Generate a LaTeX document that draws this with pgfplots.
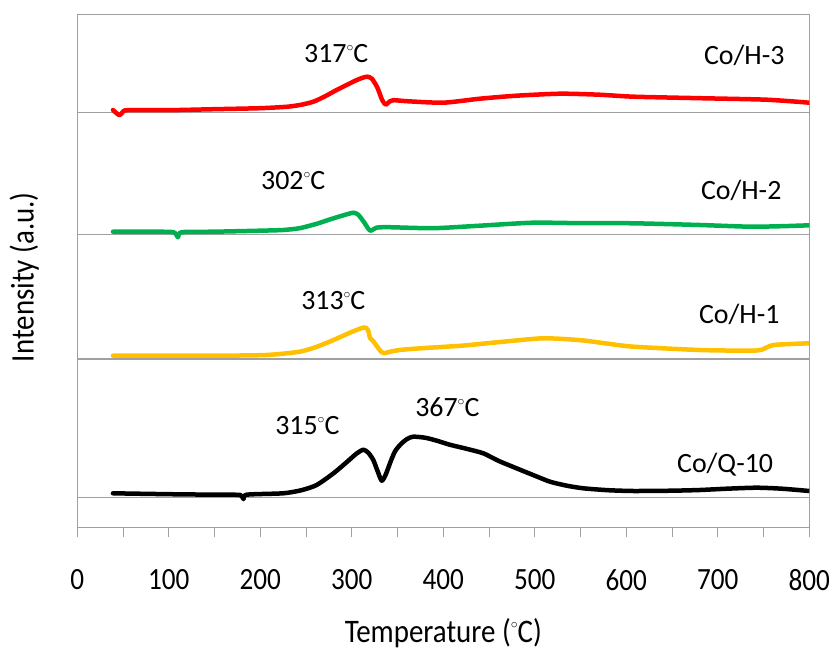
\documentclass[border=0pt]{standalone}
\usepackage{pgfplots}
\pgfplotsset{compat=1.18}
\usepackage{fontspec}
\setmainfont{Carlito}
\newfontfamily\thinfont[FakeStretch=0.88]{Carlito}
\definecolor{cred}{HTML}{FF0000}
\definecolor{cgreen}{HTML}{00B050}
\definecolor{cyellow}{HTML}{FFC000}
\definecolor{axgray}{HTML}{A0A0A0}
\newcommand{\degr}{\raisebox{0.42em}{\scalebox{0.55}{$\circ$}}}
\begin{document}
\begin{tikzpicture}
\begin{axis}[
  at={(0,0)}, anchor=south west,
  width=732bp, height=513.4bp, scale only axis,
  xmin=0, xmax=800, ymin=0, ymax=513.4,
  axis line style={axgray, line width=1.3pt},
  xtick={0,100,...,800}, minor xtick={50,150,...,750},
  ytick=\empty, xtick pos=bottom,
  tick align=outside, major tick length=9bp, minor tick length=9bp,
  every tick/.style={axgray, line width=1pt},
  /pgf/number format/assume math mode=true,
  xticklabel style={font=\thinfont\fontsize{31}{31}\selectfont, yshift=-29bp},
  xlabel={Temperature (\degr C)},
  ylabel={Intensity (a.u.)},
  xlabel style={font=\thinfont\fontsize{33}{33}\selectfont, at={(axis description cs:0.5,-0.2045)}, anchor=center},
  ylabel style={font=\thinfont\fontsize{33}{33}\selectfont, at={(axis description cs:-0.0724,0.488)}, anchor=center},
  every axis plot/.append style={line join=round, line cap=round},
]
% baselines
\addplot[axgray, line width=1.5pt] coordinates {(0,415.4) (800,415.4)};
\addplot[axgray, line width=1.5pt] coordinates {(0,293) (800,293)};
\addplot[axgray, line width=1.5pt] coordinates {(0,168.7) (800,168.7)};
\addplot[axgray, line width=1.5pt] coordinates {(0,30) (800,30)};
% Co/H-3
\addplot[cred, line width=4.5bp, smooth, tension=0.4] coordinates {
(39,417.7) (46,412.5) (50,416) (55,417.5) (100,417.5) (150,418.5) (200,419.5)
(230,421) (245,423) (258,426) (270,431) (283,437.5) (295,443) (305,447.5) (312,450) (317,451)
(322,449) (328,440) (333,428) (337,423) (341,426) (346,427.5) (360,426.5)
(400,425) (440,429) (480,432) (528,434) (570,433) (608,431) (680,429.5)
(753,428) (800,425)};
% Co/H-2
\addplot[cgreen, line width=4.5bp, smooth, tension=0.4] coordinates {
(39,296) (80,296) (105,295.5) (110,290.5) (114,295.5) (150,296) (200,297)
(225,297.7) (243,299.5) (262,304) (280,309.4) (295,313.5) (302,315) (307,313)
(313,306) (318,299) (321,297) (327,300) (340,300.5) (389,299.5) (440,302)
(498,305) (550,304.5) (608,304.4) (680,302.7) (735,301) (770,301.5) (800,302.4)};
% Co/H-1
\addplot[cyellow, line width=4.5bp, smooth, tension=0.4] coordinates {
(39,172) (100,172) (150,172) (207,172.7) (243,176) (262,181) (280,187.7)
(298,195) (312,200) (316,199.5) (318,197) (320,189.5) (323,187) (327,182)
(332,176) (335,174.5) (342,176) (352,177.7) (375,179.4) (420,182) (460,185.5)
(509,189.4) (550,187.5) (580,184) (608,181) (680,177.7) (735,177) (748,178)
(761,182.7) (800,184.4)};
% Co/Q-10
\addplot[black, line width=4.5bp, smooth, tension=0.4] coordinates {
(39,34.4) (100,33.5) (150,33) (178,32.7) (181.6,28.5) (185,33) (225,34.4)
(245,37.5) (261.6,42.7) (280,54.4) (295,66) (305,74) (312.6,78) (318,75)
(323.5,67.7) (328,57) (332.7,47) (337,53) (341.7,64.4) (347,76) (353,83)
(360,88.5) (367,91) (380,90) (393,87) (407,83) (425,79) (443.7,74.4)
(460,67) (480,59.4) (500,52) (516.6,46) (535,42) (553,39.4) (580,37.5)
(607.7,36.7) (650,37) (680.5,37.7) (710,39) (742.5,40) (770,39) (800,36.7)};
% annotations
\begin{scope}[every node/.style={font=\fontsize{28}{28}\selectfont, anchor=base, inner sep=0pt}]
\node at (axis cs:283,464.7) {317\degr C};
\node at (axis cs:236,337.7) {302\degr C};
\node at (axis cs:279.8,217.7) {313\degr C};
\node at (axis cs:251.4,92.7) {315\degr C};
\node at (axis cs:404.4,110.7) {367\degr C};
\node at (axis cs:728.9,462.7) {Co/H-3};
\node at (axis cs:725.6,327.7) {Co/H-2};
\node at (axis cs:723.5,204.4) {Co/H-1};
\node at (axis cs:708,55.7) {Co/Q-10};
\end{scope}
\end{axis}
\pgfresetboundingbox
\path (-77.3bp,-123.3bp) rectangle (757.7bp,527.7bp);
\end{tikzpicture}
\end{document}
